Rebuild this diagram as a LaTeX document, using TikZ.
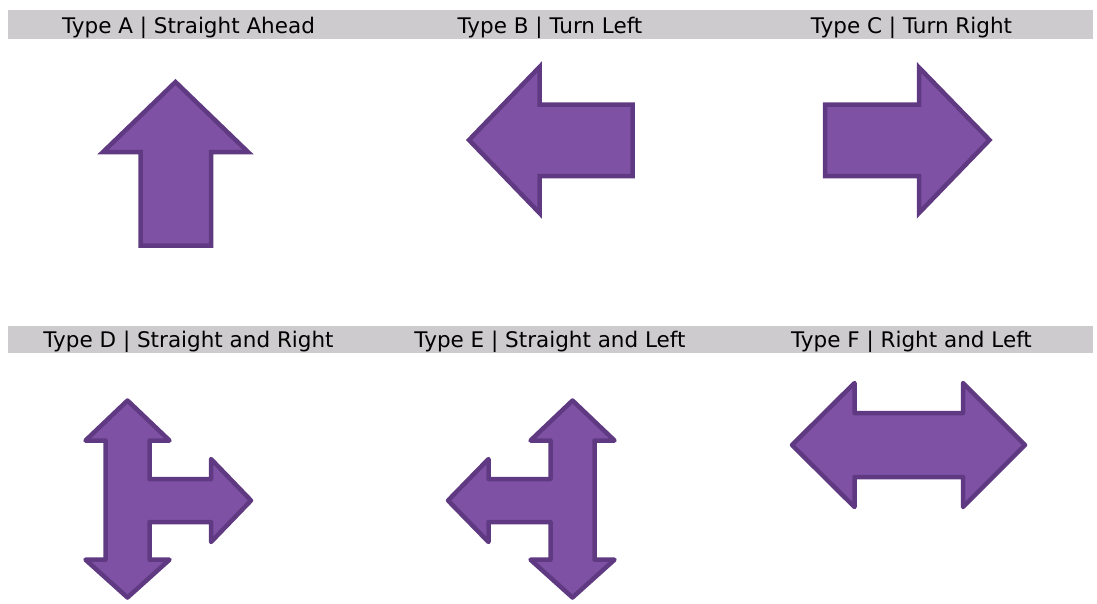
\documentclass[tikz,border=0pt]{standalone}
\usepackage{fontspec}
\setmainfont{DejaVu Sans}
\definecolor{arrowfill}{RGB}{127,81,164}
\definecolor{arrowline}{RGB}{95,58,130}
\definecolor{bargray}{RGB}{205,203,205}
\tikzset{
  shapeA/.style={fill=arrowfill,draw=arrowline,line width=4.5pt,line join=miter},
  shapeB/.style={fill=arrowfill,draw=arrowline,line width=4.5pt,line join=round},
  headbar/.style={fill=bargray,draw=none},
  title/.style={anchor=base,inner sep=0pt,font=\fontsize{21.5}{23}\selectfont}
}
\begin{document}
\begin{tikzpicture}[x=1pt,y=-1pt]
\useasboundingbox (0,0) rectangle (1097,603);
% header bars
\fill[headbar] (8,10) rectangle (1093,38.5);
\fill[headbar] (8,326) rectangle (1093,353);
\node[title] (tA) at (188.5,33) {Type A | Straight Ahead};
\node[title] (tB) at (550,33) {Type B | Turn Left};
\node[title] (tC) at (911.5,33) {Type C | Turn Right};
\node[title] (tD) at (188.5,347) {Type D | Straight and Right};
\node[title] (tE) at (550,347) {Type E | Straight and Left};
\node[title] (tF) at (911.5,347) {Type F | Right and Left};
% Type A
\draw[shapeA] (175.5,82) -- (248,152) -- (211,152) -- (211,245.5) -- (140.5,245.5) -- (140.5,152) -- (103,152) -- cycle;
% Type B
\draw[shapeA] (469,140) -- (539.5,67) -- (539.5,104.5) -- (632.5,104.5) -- (632.5,176) -- (539.5,176) -- (539.5,213) -- cycle;
% Type C
\draw[shapeA] (989.5,140) -- (919,67.5) -- (919,104.5) -- (825,104.5) -- (825,176) -- (919,176) -- (919,213) -- cycle;
% Type D
\draw[shapeB] (127.5,400.5) -- (169.5,440.5) -- (149.5,440.5) -- (149.5,479) -- (211,479) -- (211,459) -- (251,500.5) -- (211,542) -- (211,522) -- (149.5,522) -- (149.5,559.7) -- (169.5,559.7) -- (127.5,597.5) -- (85.5,559.7) -- (105.5,559.7) -- (105.5,440.5) -- (85.5,440.5) -- cycle;
% Type E
\draw[shapeB] (572.5,400.5) -- (614.5,440.5) -- (594.5,440.5) -- (594.5,559.7) -- (614.5,559.7) -- (572.5,597.5) -- (530.5,559.7) -- (550.5,559.7) -- (550.5,522) -- (488.5,522) -- (488.5,542) -- (448,500.5) -- (488.5,459) -- (488.5,479) -- (550.5,479) -- (550.5,440.5) -- (530.5,440.5) -- cycle;
% Type F
\draw[shapeB] (792,445) -- (854.5,383) -- (854.5,413) -- (963,413) -- (963,383) -- (1025,445) -- (963,507) -- (963,477) -- (854.5,477) -- (854.5,507) -- cycle;
\end{tikzpicture}
\end{document}
